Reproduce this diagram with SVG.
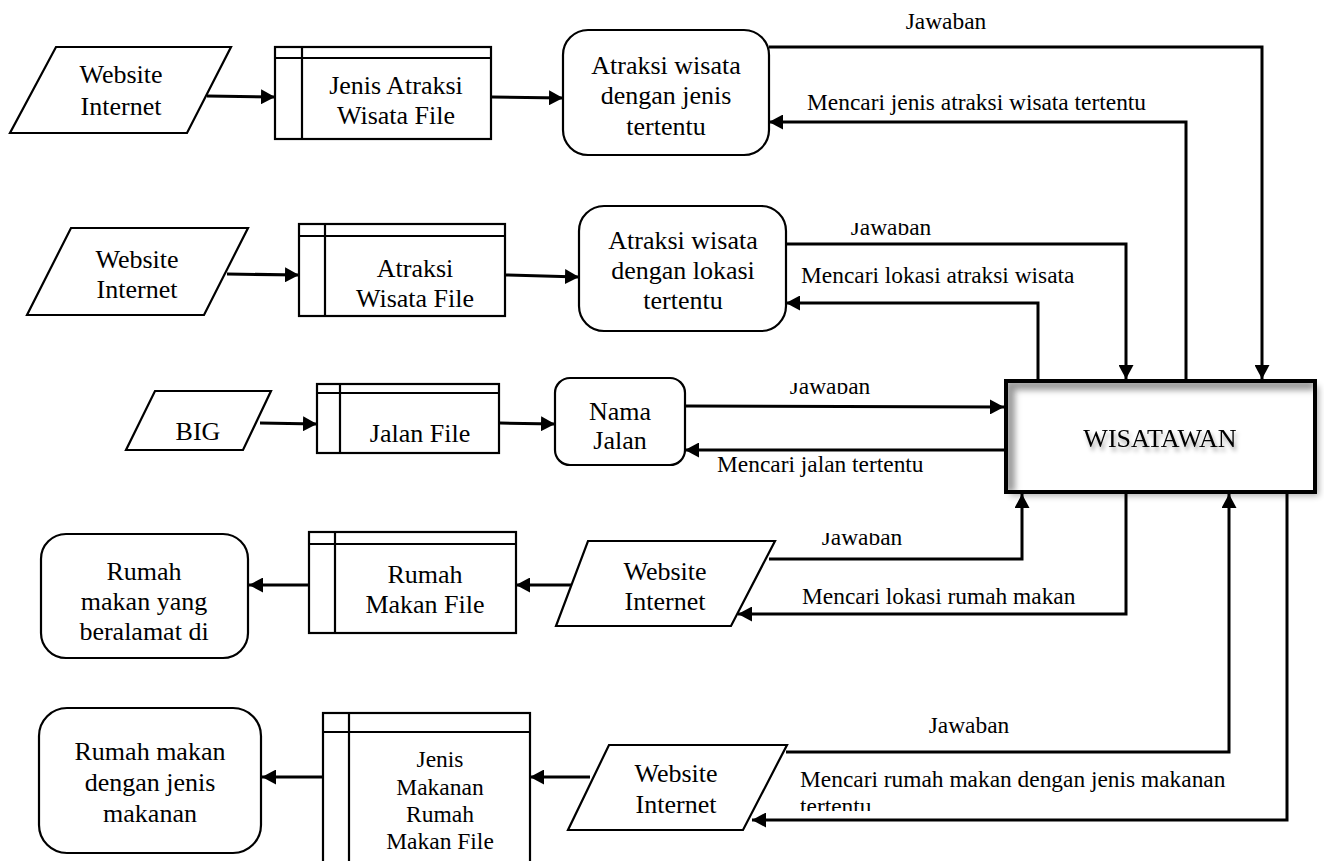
<svg xmlns="http://www.w3.org/2000/svg" width="1324" height="861" viewBox="0 0 1324 861" font-family="'Liberation Serif', 'Times New Roman', 'DejaVu Serif', serif">
<style>
.node{fill:#fff;stroke:#000;stroke-width:2.2}
.t{font-size:26px;text-anchor:middle;fill:#000}
.ts{font-size:23.5px;text-anchor:middle;fill:#000}
.lbl{font-size:23.4px;fill:#000}
.c{fill:none;stroke:#000;stroke-width:3;marker-end:url(#ah)}
.thin{fill:none;stroke:#000;stroke-width:2.2}
</style>
<defs>
<marker id="ah" markerWidth="14" markerHeight="15" refX="14" refY="7.5" orient="auto" markerUnits="userSpaceOnUse"><path d="M0,0 L14,7.5 L0,15 z" fill="#000"/></marker>
<filter id="blur3" x="-10%" y="-10%" width="120%" height="120%"><feGaussianBlur stdDeviation="3"/></filter>
<filter id="tshadow" x="-10%" y="-30%" width="120%" height="160%"><feGaussianBlur in="SourceAlpha" stdDeviation="2"/><feOffset dx="2" dy="4" result="b"/><feFlood flood-color="#000" flood-opacity="0.35"/><feComposite in2="b" operator="in" result="s"/><feMerge><feMergeNode in="s"/><feMergeNode in="SourceGraphic"/></feMerge></filter>
<clipPath id="boxclip"><rect x="1008" y="383" width="305" height="107"/></clipPath>
<clipPath id="cj2"><rect x="0" y="223" width="1324" height="40"/></clipPath>
<clipPath id="cj3"><rect x="0" y="383" width="1324" height="40"/></clipPath>
<clipPath id="cj4"><rect x="0" y="533" width="1324" height="40"/></clipPath>
<clipPath id="ct5"><rect x="0" y="790" width="1324" height="21"/></clipPath>
</defs>

<g id="connectors">
<path class="c" d="M207,96 L275,97"/>
<path class="c" d="M492,97 L563,98"/>
<path class="c" d="M769,47 H1262 V379"/>
<path class="c" d="M1186,381 V122 H769"/>
<path class="c" d="M227,274 L299,275"/>
<path class="c" d="M506,275 L579,277"/>
<path class="c" d="M786,244 H1126 V379"/>
<path class="c" d="M1038,381 V303 H786"/>
<path class="c" d="M260,423 L317,424"/>
<path class="c" d="M500,423 L555,424"/>
<path class="c" d="M685,406 L1004,407"/>
<path class="c" d="M1006,450 H685"/>
<path class="c" d="M309,585 H249"/>
<path class="c" d="M576,585 H516"/>
<path class="c" d="M769,559 H1022 V494"/>
<path class="c" d="M1126,492 V614 H738"/>
<path class="c" d="M323,777 H262"/>
<path class="c" d="M590,777 H530"/>
<path class="c" d="M786,752 H1229 V494"/>
<path class="c" d="M1287,492 V820 H752"/>
<text class="lbl" x="946" y="29" text-anchor="middle">Jawaban</text>
<text class="lbl" x="807" y="110">Mencari jenis atraksi wisata tertentu</text>
<text class="lbl" x="891" y="235" text-anchor="middle" clip-path="url(#cj2)">Jawaban</text>
<text class="lbl" x="801" y="283">Mencari lokasi atraksi wisata</text>
<text class="lbl" x="830" y="394" text-anchor="middle" clip-path="url(#cj3)">Jawaban</text>
<text class="lbl" x="717" y="472">Mencari jalan tertentu</text>
<text class="lbl" x="862" y="545" text-anchor="middle" clip-path="url(#cj4)">Jawaban</text>
<text class="lbl" x="802" y="604">Mencari lokasi rumah makan</text>
<text class="lbl" x="969" y="733" text-anchor="middle">Jawaban</text>
<text class="lbl" x="800" y="787">Mencari rumah makan dengan jenis makanan</text>
<text class="lbl" x="800" y="814" clip-path="url(#ct5)">tertentu</text>
</g>

<g id="p1">
<polygon class="node" points="56,47 231,47 187,133 10,133"/>
<text class="t" x="121" y="83">Website</text>
<text class="t" x="121" y="115">Internet</text>
</g>
<g id="f1">
<rect class="node" x="275" y="47" width="216" height="92"/>
<path class="thin" d="M275,58 H491 M302,47 V139"/>
<text class="t" x="396" y="94">Jenis Atraksi</text>
<text class="t" x="396" y="124">Wisata File</text>
</g>
<g id="r1">
<rect class="node" x="563" y="30" width="206" height="125" rx="25"/>
<text class="t" x="666" y="74">Atraksi wisata</text>
<text class="t" x="666" y="104">dengan jenis</text>
<text class="t" x="666" y="135">tertentu</text>
</g>

<g id="p2">
<polygon class="node" points="71,228 248,228 204,315 27,315"/>
<text class="t" x="137" y="268">Website</text>
<text class="t" x="137" y="298">Internet</text>
</g>
<g id="f2">
<rect class="node" x="299" y="224" width="206" height="92"/>
<path class="thin" d="M299,236 H505 M325,224 V316"/>
<text class="t" x="415" y="277">Atraksi</text>
<text class="t" x="415" y="307">Wisata File</text>
</g>
<g id="r2">
<rect class="node" x="579" y="206" width="207" height="125" rx="25"/>
<text class="t" x="683" y="249">Atraksi wisata</text>
<text class="t" x="683" y="279">dengan lokasi</text>
<text class="t" x="683" y="309">tertentu</text>
</g>

<g id="big">
<polygon class="node" points="155,391 271,391 243,450 126,450"/>
<text class="t" x="198" y="440">BIG</text>
</g>
<g id="f3">
<rect class="node" x="317" y="384" width="182" height="69"/>
<path class="thin" d="M317,393 H499 M340,384 V453"/>
<text class="t" x="420" y="442">Jalan File</text>
</g>
<g id="nama">
<rect class="node" x="555" y="378" width="130" height="87" rx="15"/>
<text class="t" x="620" y="420">Nama</text>
<text class="t" x="620" y="449">Jalan</text>
</g>

<g id="wisatawan">
<rect x="1010" y="386" width="309" height="110" fill="#000" opacity="0.3" filter="url(#blur3)"/>
<rect x="1006" y="381" width="309" height="111" fill="#fff"/>
<g clip-path="url(#boxclip)"><path d="M1010,492 V385 H1315" fill="none" stroke="#999" stroke-width="10" filter="url(#blur3)"/></g>
<rect x="1006" y="381" width="309" height="111" fill="none" stroke="#000" stroke-width="4"/>
<text class="t" x="1160" y="447" filter="url(#tshadow)">WISATAWAN</text>
</g>

<g id="r4">
<rect class="node" x="41" y="534" width="207" height="124" rx="25"/>
<text class="t" x="144" y="580">Rumah</text>
<text class="t" x="144" y="610">makan yang</text>
<text class="t" x="144" y="640">beralamat di</text>
</g>
<g id="f4">
<rect class="node" x="309" y="532" width="207" height="101"/>
<path class="thin" d="M309,544 H516 M335,532 V633"/>
<text class="t" x="425" y="583">Rumah</text>
<text class="t" x="425" y="613">Makan File</text>
</g>
<g id="p4">
<polygon class="node" points="588,541 775,541 731,626 556,626"/>
<text class="t" x="665" y="580">Website</text>
<text class="t" x="665" y="610">Internet</text>
</g>

<g id="r5">
<rect class="node" x="39" y="708" width="222" height="145" rx="28"/>
<text class="t" x="150" y="760">Rumah makan</text>
<text class="t" x="150" y="791">dengan jenis</text>
<text class="t" x="150" y="822">makanan</text>
</g>
<g id="f5">
<rect class="node" x="323" y="713" width="207" height="160"/>
<path class="thin" d="M323,732 H530 M349,713 V873"/>
<text class="ts" x="440" y="767">Jenis</text>
<text class="ts" x="440" y="795">Makanan</text>
<text class="ts" x="440" y="822">Rumah</text>
<text class="ts" x="440" y="849">Makan File</text>
</g>
<g id="p5">
<polygon class="node" points="609,745 787,745 743,830 568,830"/>
<text class="t" x="676" y="782">Website</text>
<text class="t" x="676" y="813">Internet</text>
</g>
</svg>
